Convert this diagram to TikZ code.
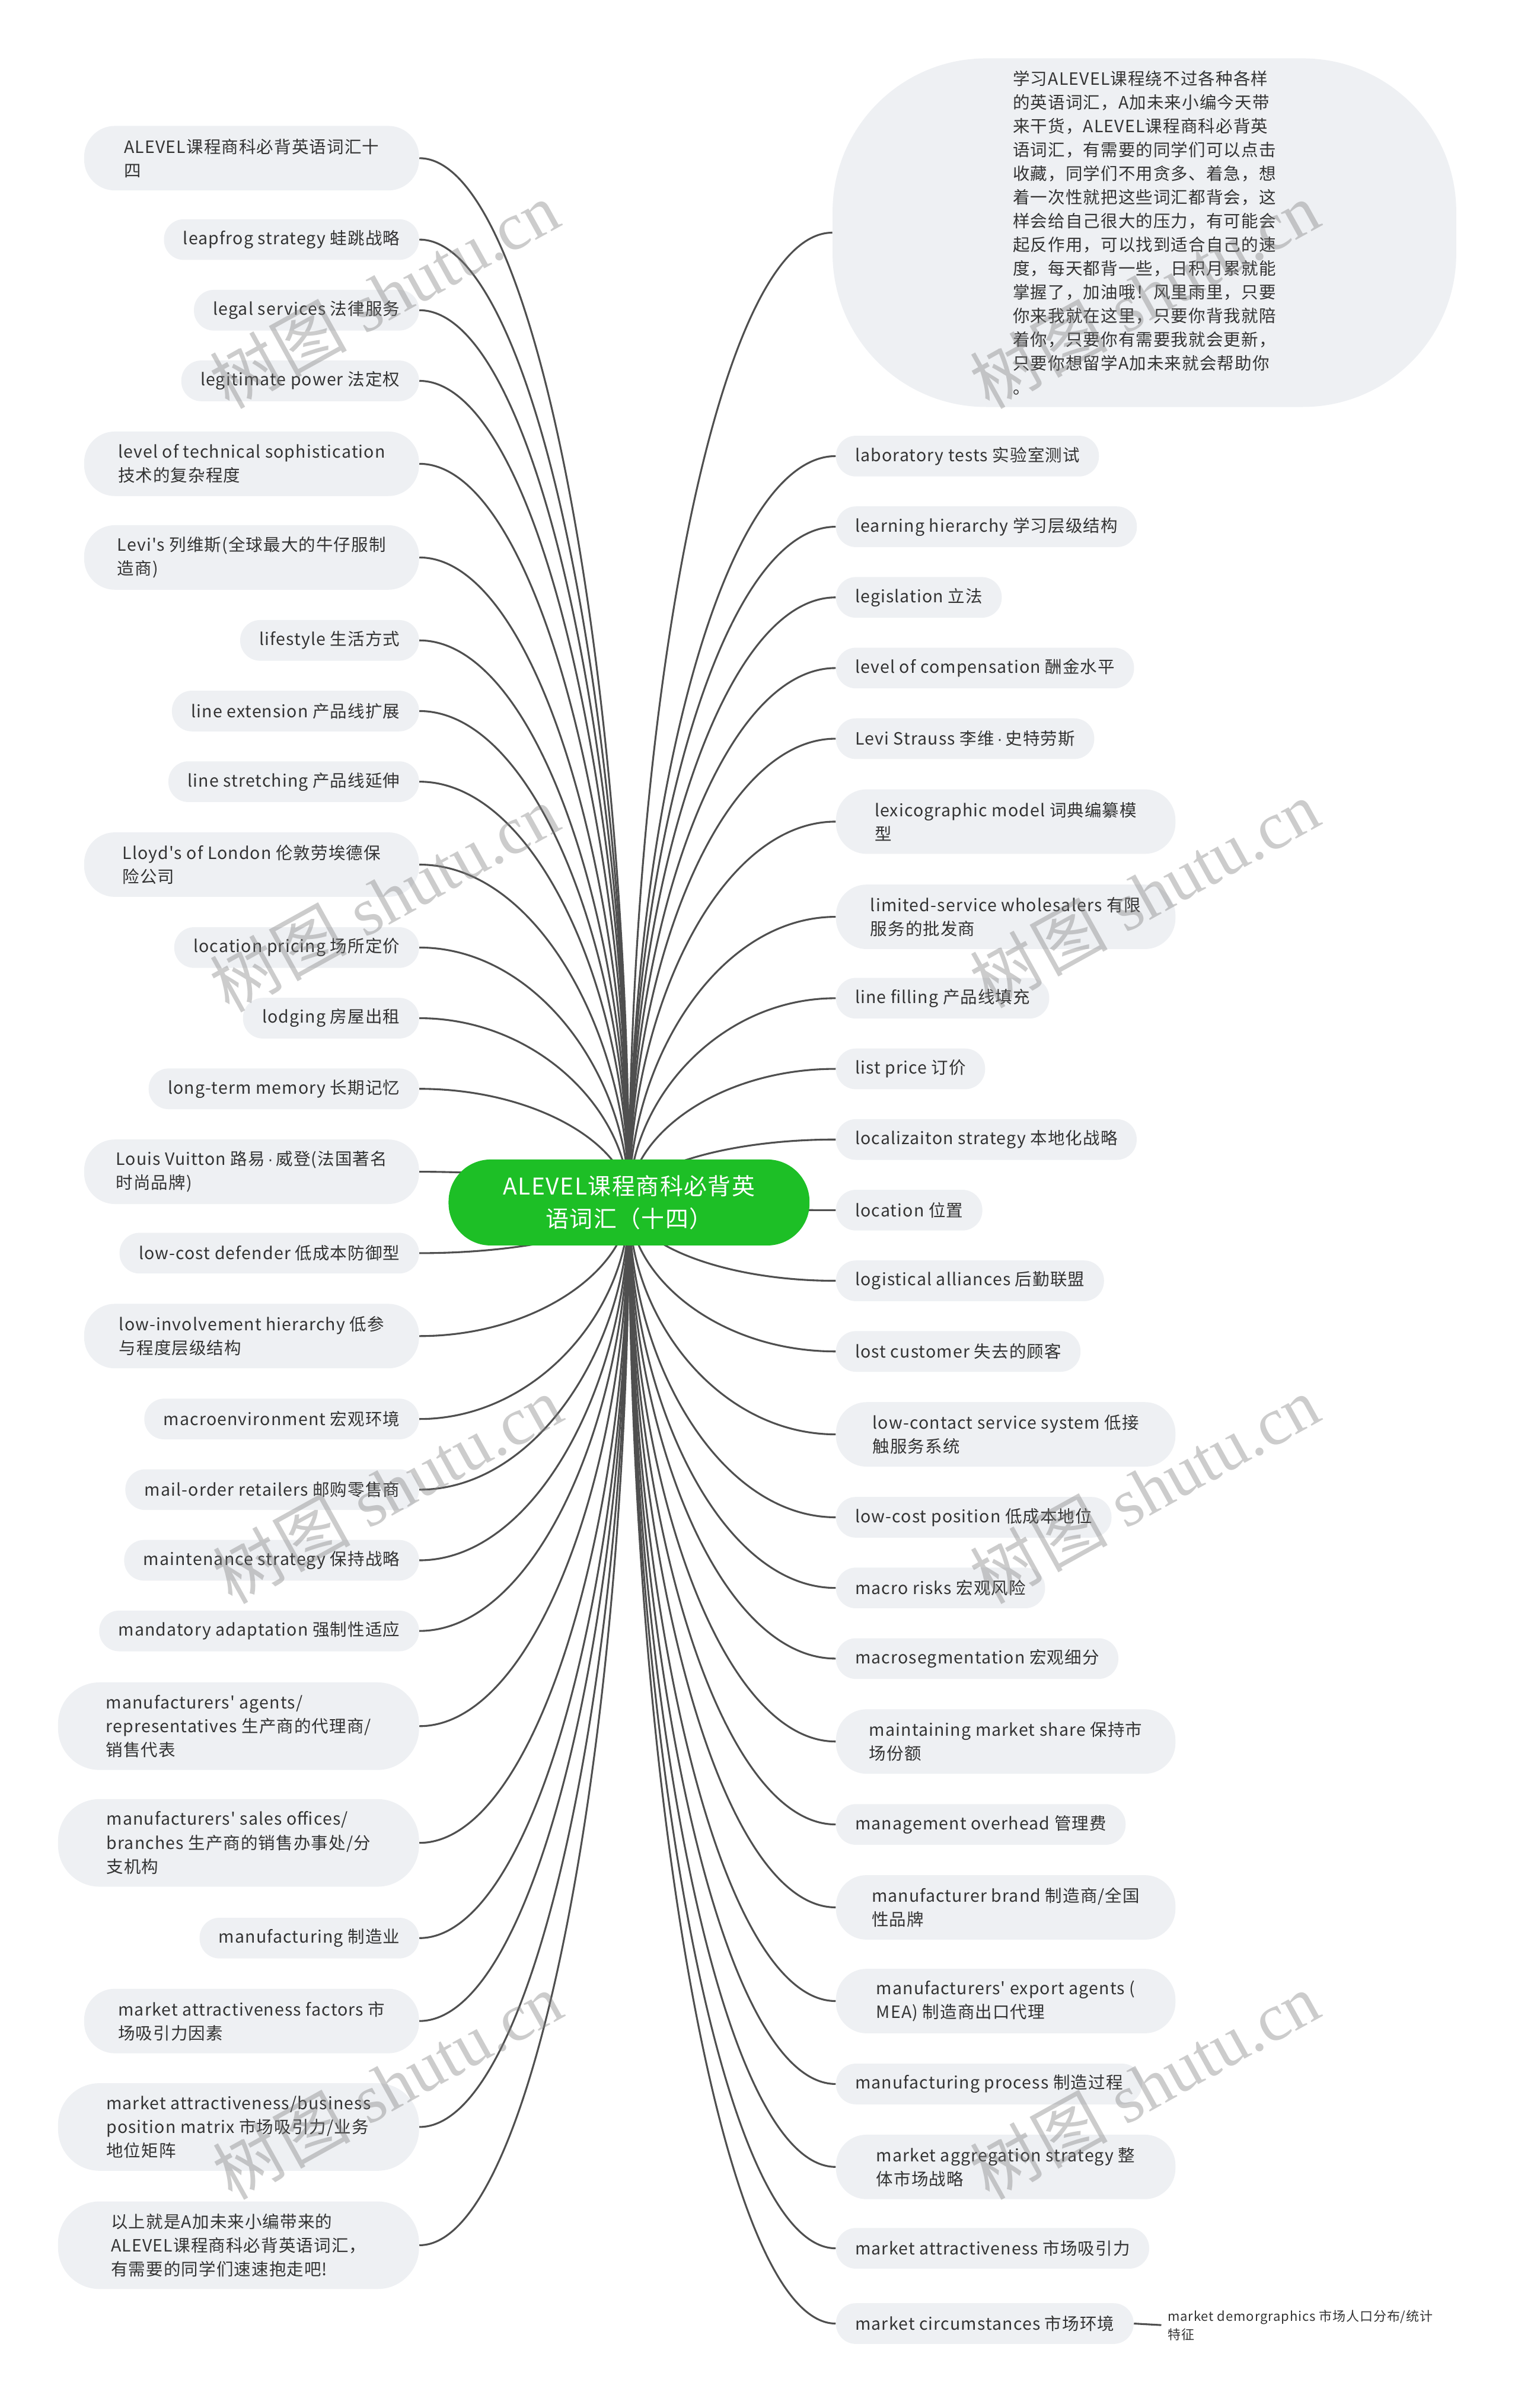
\documentclass[tikz,border=0pt]{standalone}
\usepackage{fontspec}
\setmainfont{Noto Sans CJK SC}[Ligatures=TeXOff,LetterSpace=4]
\newfontfamily\wmserif{Liberation Serif}
\newfontfamily\latinfont{Liberation Sans}
\newcommand{\mdot}{{\latinfont\,·\,}}
\usetikzlibrary{calc,backgrounds}
\definecolor{pillfill}{HTML}{EEF0F3}
\definecolor{txt}{HTML}{333333}
\definecolor{rootgreen}{HTML}{1DBF26}
\definecolor{linec}{HTML}{4F4F4F}
\begin{document}
\begin{tikzpicture}[x=1pt,y=-1pt,
  pill/.style={fill=pillfill, text=txt, font=\fontsize{11}{15.5}\selectfont,
    inner xsep=12.5pt, inner ysep=3pt, minimum height=26.5pt, rounded corners=13pt, align=left},
  pilltwo/.style={pill, minimum height=42pt, rounded corners=20pt, minimum width=218pt},
  pillthree/.style={pill, minimum height=57pt, rounded corners=27pt, minimum width=235pt},
  rpilltwo/.style={pill, minimum height=42pt, rounded corners=20pt, minimum width=221pt},
  lnode/.style={anchor=east},
  rnode/.style={anchor=west},
  rootnode/.style={fill=rootgreen, text=white, minimum width=235pt, minimum height=56pt,
    rounded corners=27.5pt, align=center, font=\fontsize{15}{21}\selectfont},
  bubble/.style={fill=pillfill, text=txt, minimum width=406pt, minimum height=227pt,
    rounded corners=100pt, align=left, font=\fontsize{11}{15.46}\selectfont},
  subnote/.style={text=txt, anchor=west, align=left, inner xsep=4pt, font=\fontsize{8.5}{12}\selectfont},
  wire/.style={draw=linec, line width=1.2pt},
  connL/.style={to path={.. controls ($(\tikztostart)+(76,0)$) and ($(\tikztotarget)!0.5!(\tikztotarget|-\tikztostart)$) .. (\tikztotarget)}},
  connR/.style={to path={.. controls ($(\tikztostart)+(-76,0)$) and ($(\tikztotarget)!0.5!(\tikztotarget|-\tikztostart)$) .. (\tikztotarget)}},
  wm/.style={rotate=29, text=black!50, opacity=0.4, font=\fontsize{44}{44}\selectfont}
]
\useasboundingbox (0,0) rectangle (988,1568);

% root
\node[rootnode] (root) at (409.5,783) {ALEVEL课程商科必背英\\语词汇（十四）};

% left children
\node[pilltwo,lnode] (L1) at (273,103) {ALEVEL课程商科必背英语词汇十\\四};
\node[pill,lnode] (L2) at (273,156) {leapfrog strategy 蛙跳战略};
\node[pill,lnode] (L3) at (273,202) {legal services 法律服务};
\node[pill,lnode] (L4) at (273,248) {legitimate power 法定权};
\node[pilltwo,lnode] (L5) at (273,302) {level of technical sophistication\\技术的复杂程度};
\node[pilltwo,lnode] (L6) at (273,363) {Levi's 列维斯(全球最大的牛仔服制\\造商)};
\node[pill,lnode] (L7) at (273,417) {lifestyle 生活方式};
\node[pill,lnode] (L8) at (273,463) {line extension 产品线扩展};
\node[pill,lnode] (L9) at (273,509) {line stretching 产品线延伸};
\node[pilltwo,lnode] (L10) at (273,563) {Lloyd's of London 伦敦劳埃德保\\险公司};
\node[pill,lnode] (L11) at (273,617) {location pricing 场所定价};
\node[pill,lnode] (L12) at (273,663) {lodging 房屋出租};
\node[pill,lnode] (L13) at (273,709) {long-term memory 长期记忆};
\node[pilltwo,lnode] (L14) at (273,763) {Louis Vuitton 路易\mdot 威登(法国著名\\时尚品牌)};
\node[pill,lnode] (L15) at (273,816) {low-cost defender 低成本防御型};
\node[pilltwo,lnode] (L16) at (273,870) {low-involvement hierarchy 低参\\与程度层级结构};
\node[pill,lnode] (L17) at (273,924) {macroenvironment 宏观环境};
\node[pill,lnode] (L18) at (273,970) {mail-order retailers 邮购零售商};
\node[pill,lnode] (L19) at (273,1016) {maintenance strategy 保持战略};
\node[pill,lnode] (L20) at (273,1062) {mandatory adaptation 强制性适应};
\node[pillthree,lnode] (L21) at (273,1124) {manufacturers' agents/\\representatives 生产商的代理商/\\销售代表};
\node[pillthree,lnode] (L22) at (273,1200) {manufacturers' sales offices/\\branches 生产商的销售办事处/分\\支机构};
\node[pill,lnode] (L23) at (273,1262) {manufacturing 制造业};
\node[pilltwo,lnode] (L24) at (273,1316) {market attractiveness factors 市\\场吸引力因素};
\node[pillthree,lnode] (L25) at (273,1385) {market attractiveness/business\\position matrix 市场吸引力/业务\\地位矩阵};
\node[pillthree,lnode] (L26) at (273,1462) {以上就是A加未来小编带来的\\ALEVEL课程商科必背英语词汇，\\有需要的同学们速速抱走吧!};

% right children
\node[bubble] (R0) at (745,151.5) {学习ALEVEL课程绕不过各种各样\\的英语词汇，A加未来小编今天带\\来干货，ALEVEL课程商科必背英\\语词汇，有需要的同学们可以点击\\收藏，同学们不用贪多、着急，想\\着一次性就把这些词汇都背会，这\\样会给自己很大的压力，有可能会\\起反作用，可以找到适合自己的速\\度，每天都背一些，日积月累就能\\掌握了，加油哦！风里雨里，只要\\你来我就在这里，只要你背我就陪\\着你，只要你有需要我就会更新，\\只要你想留学A加未来就会帮助你\\。};
\node[pill,rnode] (R1) at (544,297) {laboratory tests 实验室测试};
\node[pill,rnode] (R2) at (544,343) {learning hierarchy 学习层级结构};
\node[pill,rnode] (R3) at (544,389) {legislation 立法};
\node[pill,rnode] (R4) at (544,435) {level of compensation 酬金水平};
\node[pill,rnode] (R5) at (544,481) {Levi Strauss 李维\mdot 史特劳斯};
\node[rpilltwo,rnode] (R6) at (544,535) {lexicographic model 词典编纂模\\型};
\node[rpilltwo,rnode] (R7) at (544,597) {limited-service wholesalers 有限\\服务的批发商};
\node[pill,rnode] (R8) at (544,650) {line filling 产品线填充};
\node[pill,rnode] (R9) at (544,696) {list price 订价};
\node[pill,rnode] (R10) at (544,742) {localizaiton strategy 本地化战略};
\node[pill,rnode] (R11) at (544,788) {location 位置};
\node[pill,rnode] (R12) at (544,834) {logistical alliances 后勤联盟};
\node[pill,rnode] (R13) at (544,880) {lost customer 失去的顾客};
\node[rpilltwo,rnode] (R14) at (544,934) {low-contact service system 低接\\触服务系统};
\node[pill,rnode] (R15) at (544,988) {low-cost position 低成本地位};
\node[pill,rnode] (R16) at (544,1034) {macro risks 宏观风险};
\node[pill,rnode] (R17) at (544,1080) {macrosegmentation 宏观细分};
\node[rpilltwo,rnode] (R18) at (544,1134) {maintaining market share 保持市\\场份额};
\node[pill,rnode] (R19) at (544,1188) {management overhead 管理费};
\node[rpilltwo,rnode] (R20) at (544,1242) {manufacturer brand 制造商/全国\\性品牌};
\node[rpilltwo,rnode] (R21) at (544,1303) {manufacturers' export agents (\\MEA) 制造商出口代理};
\node[pill,rnode] (R22) at (544,1357) {manufacturing process 制造过程};
\node[rpilltwo,rnode] (R23) at (544,1411) {market aggregation strategy 整\\体市场战略};
\node[pill,rnode] (R24) at (544,1464) {market attractiveness 市场吸引力};
\node[pill,rnode] (R25) at (544,1513) {market circumstances 市场环境};
\node[subnote] (C1) at (756,1514) {market demorgraphics 市场人口分布/统计\\特征};

% background and connectors
\begin{pgfonlayer}{background}
\fill[white] (0,0) rectangle (988,1568);
\foreach \i in {1,...,26} {\draw[wire] (L\i.east) to[connL] (root.center);}
\foreach \i in {0,...,25} {\draw[wire] (R\i.west) to[connR] (root.center);}
\draw[wire] (R25.east) -- (C1.west);
\end{pgfonlayer}

% watermarks
\node[wm] (wm1) at (250,192) {树图 {\wmserif shutu.cn}};
\node[wm] (wm2) at (745,192) {树图 {\wmserif shutu.cn}};
\node[wm] (wm3) at (250,585) {树图 {\wmserif shutu.cn}};
\node[wm] (wm4) at (745,582) {树图 {\wmserif shutu.cn}};
\node[wm] (wm5) at (252,970) {树图 {\wmserif shutu.cn}};
\node[wm] (wm6) at (745,970) {树图 {\wmserif shutu.cn}};
\node[wm] (wm7) at (252,1358) {树图 {\wmserif shutu.cn}};
\node[wm] (wm8) at (745,1358) {树图 {\wmserif shutu.cn}};
\end{tikzpicture}
\end{document}
